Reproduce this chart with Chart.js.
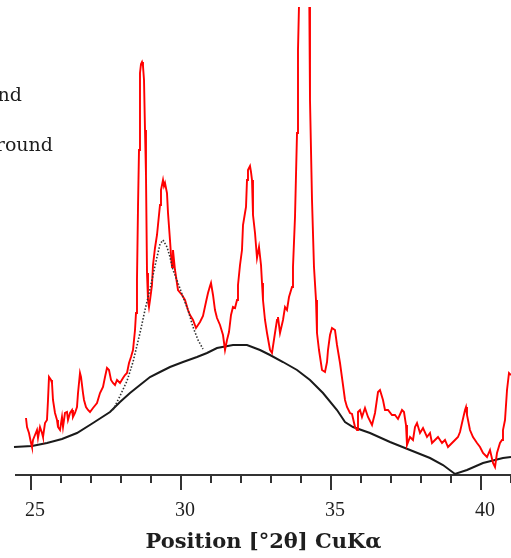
<!DOCTYPE html>
<html>
<head>
<meta charset="utf-8">
<script src="https://cdn.jsdelivr.net/npm/chart.js@4.4.0/dist/chart.umd.min.js"></script>
<style>
  html,body{margin:0;padding:0;background:#fff;}
  #wrap{width:511px;height:558px;position:relative;}
</style>
</head>
<body>
<div id="wrap"><canvas id="xrd" width="511" height="558"></canvas></div>
<script>
// 2theta positions (deg) and intensities (a.u.)
const measuredX = [24.833,24.867,24.933,25.000,25.033,25.067,25.133,25.200,25.233,25.300,25.367,25.400,25.467,25.533,25.567,25.600,25.667,25.700,25.733,25.800,25.867,25.900,25.967,26.033,26.067,26.133,26.200,26.233,26.300,26.367,26.400,26.467,26.533,26.567,26.633,26.667,26.733,26.767,26.833,26.900,26.967,27.067,27.200,27.300,27.400,27.467,27.533,27.600,27.667,27.733,27.800,27.867,27.967,28.067,28.133,28.200,28.267,28.333,28.400,28.467,28.500,28.533,28.567,28.600,28.633,28.667,28.700,28.733,28.767,28.800,28.833,28.867,28.900,28.933,28.967,29.033,29.067,29.133,29.200,29.233,29.300,29.333,29.400,29.433,29.467,29.533,29.567,29.633,29.667,29.700,29.733,29.800,29.900,30.033,30.133,30.233,30.300,30.400,30.500,30.567,30.633,30.733,30.833,30.900,30.967,31.000,31.067,31.133,31.200,31.300,31.400,31.467,31.533,31.600,31.667,31.733,31.800,31.867,31.900,31.967,32.033,32.067,32.133,32.167,32.200,32.233,32.300,32.333,32.367,32.400,32.467,32.533,32.600,32.667,32.700,32.733,32.800,32.867,32.967,33.033,33.133,33.200,33.233,33.300,33.400,33.467,33.533,33.600,33.700,33.733,33.800,33.867,33.900,33.967,34.100,34.267,34.300,34.367,34.433,34.500,34.533,34.600,34.700,34.800,34.867,34.900,34.967,35.033,35.133,35.200,35.300,35.400,35.467,35.533,35.633,35.700,35.800,35.867,35.900,35.967,36.033,36.133,36.233,36.367,36.467,36.567,36.633,36.733,36.800,36.900,37.033,37.133,37.233,37.367,37.433,37.500,37.533,37.633,37.733,37.800,37.867,37.967,38.067,38.200,38.300,38.367,38.467,38.567,38.700,38.800,38.900,39.033,39.133,39.233,39.300,39.367,39.467,39.500,39.533,39.633,39.733,39.867,39.967,40.067,40.200,40.300,40.400,40.467,40.533,40.633,40.700,40.733,40.800,40.867,40.933,41.000];
const measuredY = [57,48,42,32,28,35,40,45,37,48,42,38,52,55,75,98,95,92,75,62,55,48,45,58,48,62,63,55,62,65,58,62,68,82,102,98,82,75,68,65,63,67,72,82,88,98,107,105,95,92,90,95,92,97,100,102,112,118,125,145,162,195,268,325,402,411,413,409,395,345,300,202,175,168,175,190,210,227,240,250,270,285,295,289,292,282,262,235,220,208,225,205,185,180,175,165,160,155,147,150,153,159,173,182,189,192,180,165,157,150,140,125,135,143,160,168,167,175,190,210,225,250,262,268,295,305,309,303,295,260,242,217,228,210,192,175,155,142,125,122,142,155,158,142,155,168,165,178,188,208,258,342,425,515,775,515,375,275,208,175,142,125,105,103,113,125,140,147,145,130,112,90,75,68,62,61,48,45,63,65,58,67,58,50,62,83,85,75,65,65,60,60,56,65,63,50,30,38,35,48,52,42,47,38,42,32,35,38,32,35,28,32,35,38,43,52,65,68,60,45,38,32,28,22,18,25,12,8,22,32,35,45,55,85,102,100];

const backgroundX = [24.433,25.033,25.533,26.033,26.533,27.067,27.633,27.967,28.300,28.633,28.967,29.300,29.633,30.067,30.533,30.867,31.200,31.733,32.200,32.633,32.967,33.400,33.867,34.300,34.733,35.200,35.467,35.733,36.300,36.967,37.633,38.300,38.733,39.133,39.533,40.067,40.733,41.000];
const backgroundY = [28,29,32,36,42,52,63,73,82,90,98,103,108,113,118,122,127,130,130,125,120,113,105,95,82,65,53,48,42,33,25,17,10,1,5,12,17,18];

const humpX = [27.733,27.967,28.200,28.400,28.633,28.800,28.967,29.133,29.300,29.400,29.533,29.633,29.733,29.900,30.067,30.233,30.400,30.567,30.733];
const humpY = [65,79,94,113,142,165,186,209,231,235,228,218,205,192,178,165,148,135,126];

const tickValues = [25,26,27,28,29,30,31,32,33,34,35,36,37,38,39,40,41];
const legendLabels = ['nd', 'round'];

const serif = '"Liberation Serif", "DejaVu Serif", serif';
const wideSerif = '"DejaVu Serif", serif';
const ink = '#1e1e1e';

function pairs(xs, ys){ return xs.map((x,i)=>({x:x, y:ys[i]})); }

// axis tick marks (long at multiples of 5) and the clipped legend text
const decor = {
  id: 'decor',
  afterDraw(chart){
    const ctx = chart.ctx, sx = chart.scales.x, bottom = chart.chartArea.bottom;
    ctx.save();
    ctx.strokeStyle = '#333';
    ctx.lineWidth = 2;
    tickValues.forEach(v=>{
      const px = sx.getPixelForValue(v);
      ctx.beginPath();
      ctx.moveTo(px, bottom);
      ctx.lineTo(px, bottom + (v % 5 === 0 ? 15 : 8));
      ctx.stroke();
    });
    ctx.fillStyle = ink;
    ctx.font = '19px ' + wideSerif;
    ctx.textBaseline = 'alphabetic';
    ctx.textAlign = 'right';
    ctx.fillText(legendLabels[0], 22, 101);
    ctx.fillText(legendLabels[1], 53, 151);
    ctx.restore();
  }
};

new Chart(document.getElementById('xrd'), {
  type: 'line',
  data: {
    datasets: [
      { label: 'hump', data: pairs(humpX, humpY), borderColor: '#333', borderWidth: 1.6, borderDash: [1.5, 1.8], pointRadius: 0, tension: 0 },
      { label: 'measured', data: pairs(measuredX, measuredY), borderColor: '#ff0000', borderWidth: 1.9, pointRadius: 0, tension: 0 },
      { label: 'background', data: pairs(backgroundX, backgroundY), borderColor: '#1a1a1a', borderWidth: 2, pointRadius: 0, tension: 0, clip: false }
    ]
  },
  options: {
    responsive: false,
    animation: false,
    layout: { padding: { left: 16, right: 0, top: 7, bottom: 2 } },
    plugins: { legend: { display: false }, tooltip: { enabled: false } },
    scales: {
      x: {
        type: 'linear', min: 24.5, max: 41,
        afterBuildTicks: s => { s.ticks = tickValues.map(v=>({value: v})); },
        afterFit: s => { s.height = 81; s.paddingLeft = 0; s.paddingRight = 0; },
        grid: { display: false, drawTicks: false, tickLength: 0 },
        border: { display: true, color: '#333', width: 2 },
        ticks: {
          padding: 24, color: ink, autoSkip: false, maxRotation: 0, labelOffset: 4,
          font: { family: serif, size: 20 },
          callback: v => (v % 5 === 0 ? String(v) : '')
        },
        title: {
          display: true, text: 'Position [°2θ] CuKα', color: ink,
          font: { family: wideSerif, size: 21, weight: 'bold' },
          padding: { top: 6, bottom: 1 }
        }
      },
      y: { display: false, min: 0, max: 468 }
    }
  },
  plugins: [decor]
});
</script>
</body>
</html>
